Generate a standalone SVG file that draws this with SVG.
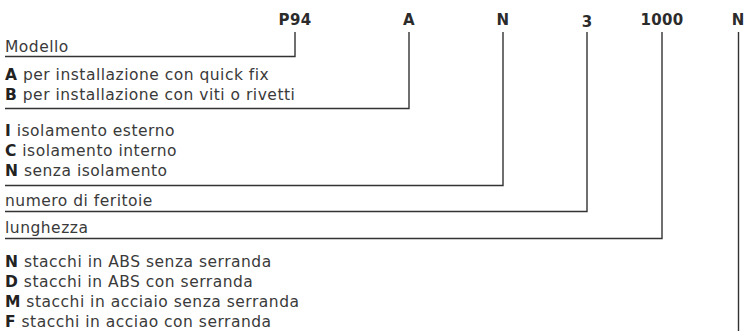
<svg xmlns="http://www.w3.org/2000/svg" width="744" height="331" viewBox="0 0 744 331">
  <style>
    .code { font-family: "DejaVu Sans", "Open Sans", sans-serif; font-weight: 700; font-size: 15px; fill: #2b2b2b; text-anchor: middle; letter-spacing: 0.3px; }
    .desc { font-family: "DejaVu Sans", "Open Sans", sans-serif; font-size: 15.5px; fill: #3a3a3a; letter-spacing: 0.5px; }
    .desc tspan.k { font-weight: 700; fill: #222; }
    .conn { fill: none; stroke: #333; stroke-width: 1.4; }
  </style>
  <rect width="744" height="331" fill="#ffffff"/>

  <g id="codes">
    <g id="code-p94"><text class="code" x="295" y="25">P94</text></g>
    <g id="code-a"><text class="code" x="409" y="25">A</text></g>
    <g id="code-n1"><text class="code" x="503" y="25">N</text></g>
    <g id="code-3"><text class="code" x="587" y="27">3</text></g>
    <g id="code-1000"><text class="code" x="662" y="25">1000</text></g>
    <g id="code-n2"><text class="code" x="738" y="25" style="letter-spacing:0">N</text></g>
  </g>

  <g id="connectors">
    <polyline class="conn" points="295,32 295,56.5 5,56.5"/>
    <polyline class="conn" points="409,32 409,108.5 5,108.5"/>
    <polyline class="conn" points="503,32 503,185.5 5,185.5"/>
    <polyline class="conn" points="587,32 587,211.5 5,211.5"/>
    <polyline class="conn" points="662,32 662,238.5 5,238.5"/>
    <polyline class="conn" points="738.5,32 738.5,331"/>
  </g>

  <g id="desc-modello"><text class="desc" x="5" y="52">Modello</text></g>
  <g id="desc-installazione">
    <text class="desc" x="5" y="80"><tspan class="k">A</tspan> per installazione con quick fix</text>
    <text class="desc" x="5" y="100"><tspan class="k">B</tspan> per installazione con viti o rivetti</text>
  </g>
  <g id="desc-isolamento">
    <text class="desc" x="5" y="136"><tspan class="k">I</tspan> isolamento esterno</text>
    <text class="desc" x="5" y="156"><tspan class="k">C</tspan> isolamento interno</text>
    <text class="desc" x="5" y="176"><tspan class="k">N</tspan> senza isolamento</text>
  </g>
  <g id="desc-feritoie"><text class="desc" x="5" y="206">numero di feritoie</text></g>
  <g id="desc-lunghezza"><text class="desc" x="5" y="233">lunghezza</text></g>
  <g id="desc-stacchi">
    <text class="desc" x="5" y="267"><tspan class="k">N</tspan> stacchi in ABS senza serranda</text>
    <text class="desc" x="5" y="287"><tspan class="k">D</tspan> stacchi in ABS con serranda</text>
    <text class="desc" x="5" y="307"><tspan class="k">M</tspan> stacchi in acciaio senza serranda</text>
    <text class="desc" x="5" y="327"><tspan class="k">F</tspan> stacchi in acciao con serranda</text>
  </g>
</svg>
